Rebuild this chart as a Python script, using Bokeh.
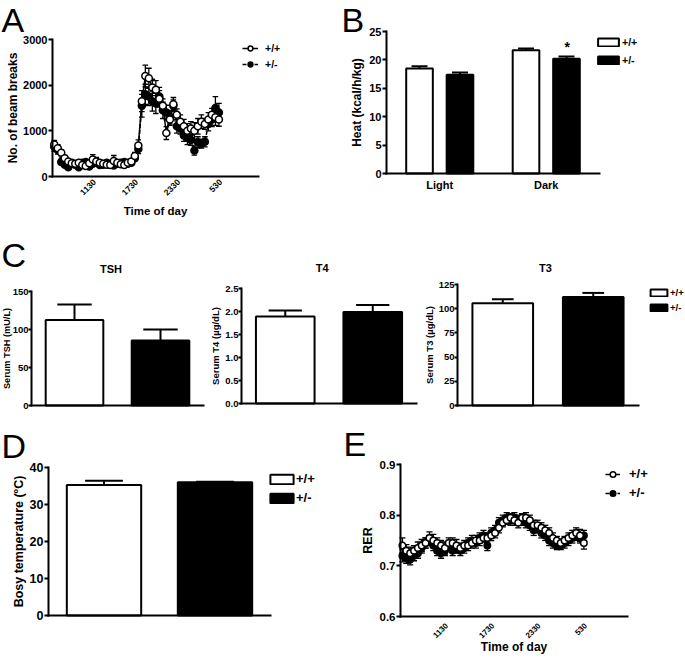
import math
from bokeh.plotting import figure
from bokeh.layouts import row, column
from bokeh.models import Legend, LegendItem, Label, FixedTicker, Range1d
from bokeh.embed import file_html
from bokeh.resources import INLINE

# ---------------- data ----------------
# time of day, hours after 05:30 (one sample every 30 min, first at 05:45)
hours = [0.25 + i * 0.5 for i in range(48)]
time_ticks = [6, 12, 18, 24]
time_tick_labels = ["1130", "1730", "2330", "530"]
genotypes = ["+/+", "+/-"]

beam_wt = [700, 620, 520, 400, 330, 290, 280, 300, 250, 230,
           290, 370, 330, 300, 280, 260, 250, 340, 300, 270,
           250, 300, 330, 450, 680, 1650, 2200, 2150, 1950, 1900,
           1700, 1550, 950, 1250, 1580, 1350, 1200, 1100, 1000, 1050,
           1000, 1100, 1200, 1150, 1250, 1350, 1300, 1250]
beam_wt_sem = [90, 80, 70, 60, 50, 50, 40, 50, 50, 40,
               60, 110, 90, 60, 50, 40, 50, 120, 60, 50,
               40, 50, 60, 80, 120, 230, 240, 220, 180, 200,
               180, 150, 140, 130, 150, 130, 150, 150, 160, 150,
               180, 170, 150, 120, 150, 140, 180, 150]
beam_het = [650, 580, 320, 260, 200, 300, 260, 200, 300, 320,
            220, 280, 300, 250, 260, 300, 260, 240, 280, 300,
            320, 280, 300, 400, 600, 1550, 1800, 1750, 1650, 1600,
            1750, 1450, 1400, 1300, 1550, 1100, 1050, 900, 850, 800,
            570, 750, 720, 760, 1150, 1250, 1500, 1400]
beam_het_sem = [100, 90, 60, 50, 40, 50, 40, 40, 60, 50,
                40, 40, 50, 40, 40, 50, 40, 40, 40, 50,
                50, 40, 50, 60, 100, 250, 220, 200, 220, 220,
                200, 180, 160, 150, 130, 150, 120, 130, 150, 120,
                100, 120, 100, 110, 150, 160, 250, 200]

heat_periods = ["Light", "Dark"]
heat_wt = [18.5, 21.7]
heat_wt_sem = [0.4, 0.3]
heat_het = [17.4, 20.2]
heat_het_sem = [0.4, 0.4]

tsh = [112.5, 85.5]
tsh_sem = [20.5, 14.5]
t4 = [1.89, 1.99]
t4_sem = [0.13, 0.15]
t3 = [105.6, 112.2]
t3_sem = [4.2, 4.1]
body_temp = [35.3, 36.0]
body_temp_sem = [1.1, 0.15]

rer_wt = [0.740, 0.730, 0.725, 0.730, 0.735, 0.740, 0.745, 0.755, 0.750, 0.745,
          0.740, 0.735, 0.745, 0.745, 0.740, 0.735, 0.740, 0.740, 0.745, 0.750,
          0.750, 0.755, 0.755, 0.760, 0.765, 0.775, 0.785, 0.790, 0.795, 0.790,
          0.785, 0.795, 0.795, 0.790, 0.780, 0.780, 0.775, 0.770, 0.765, 0.755,
          0.750, 0.745, 0.750, 0.755, 0.760, 0.765, 0.760, 0.745]
rer_wt_sem = [0.015, 0.012, 0.012, 0.010, 0.012, 0.012, 0.010, 0.012, 0.012, 0.010,
              0.010, 0.012, 0.010, 0.010, 0.012, 0.010, 0.010, 0.010, 0.010, 0.010,
              0.010, 0.008, 0.010, 0.010, 0.010, 0.010, 0.008, 0.008, 0.008, 0.010,
              0.010, 0.008, 0.010, 0.010, 0.010, 0.010, 0.010, 0.010, 0.010, 0.010,
              0.008, 0.008, 0.008, 0.010, 0.010, 0.010, 0.012, 0.012]
rer_het = [0.720, 0.715, 0.712, 0.720, 0.725, 0.735, 0.745, 0.750, 0.740, 0.730,
           0.725, 0.730, 0.740, 0.730, 0.735, 0.730, 0.735, 0.745, 0.750, 0.745,
           0.755, 0.760, 0.740, 0.765, 0.770, 0.785, 0.790, 0.795, 0.790, 0.795,
           0.790, 0.790, 0.785, 0.780, 0.770, 0.775, 0.765, 0.760, 0.750, 0.745,
           0.740, 0.740, 0.745, 0.750, 0.755, 0.760, 0.755, 0.760]
rer_het_sem = [0.012, 0.010, 0.010, 0.010, 0.010, 0.010, 0.010, 0.010, 0.010, 0.010,
               0.010, 0.010, 0.010, 0.010, 0.010, 0.010, 0.010, 0.010, 0.010, 0.010,
               0.010, 0.010, 0.010, 0.010, 0.010, 0.010, 0.010, 0.010, 0.010, 0.010,
               0.010, 0.010, 0.010, 0.010, 0.010, 0.010, 0.010, 0.010, 0.010, 0.010,
               0.008, 0.008, 0.010, 0.010, 0.010, 0.010, 0.010, 0.010]

# ---------------- helpers ----------------
K = 1.0          # reference pixels -> page pixels (Bokeh's page has no body margin)
FONT = "Liberation Sans"
LETTER_PX = 34


def s(v):
    return int(round(v * K))


def fs(px):
    return f"{px * K:.1f}px"


class Panel:
    """A figure whose frame fills its canvas; axes sit at fixed data locations."""

    def __init__(self, box, frame, xvals, yvals):
        self.box = box
        xl, yt, xr, yb = box
        fl, ft, fr, fb = frame

        def lin(px, p0, p1, v0, v1):
            return v0 + (px - p0) * (v1 - v0) / (p1 - p0)

        x_rng = Range1d(lin(s(xl) / K, fl, fr, *xvals), lin(s(xr) / K, fl, fr, *xvals))
        y_rng = Range1d(lin(s(yb) / K, fb, ft, *yvals), lin(s(yt) / K, fb, ft, *yvals))
        p = figure(width=s(xr) - s(xl), height=s(yb) - s(yt), x_range=x_rng, y_range=y_rng,
                   output_backend="svg", toolbar_location=None,
                   min_border=0, min_border_left=0, min_border_right=0,
                   min_border_top=0, min_border_bottom=0)
        p.title.visible = False
        p.outline_line_color = None
        p.xgrid.visible = False
        p.ygrid.visible = False
        p.xaxis.fixed_location = yvals[0]
        p.yaxis.fixed_location = xvals[0]
        p.xaxis.bounds = tuple(xvals)
        p.yaxis.bounds = tuple(yvals)
        self.p = p

    def screen(self, x, y):
        xl, yt, xr, yb = self.box
        return x * K - s(xl), s(yb) - y * K

    def style(self, tick_px, label_px, tick_out=4, lab_standoff=1, axlab_standoff=2):
        p = self.p
        for ax in p.axis:
            ax.axis_line_width = 2
            ax.axis_line_color = "black"
            ax.axis_line_cap = "square"
            ax.major_tick_line_width = 2
            ax.major_tick_line_color = "black"
            ax.major_tick_in = 0
            ax.major_tick_out = s(tick_out)
            ax.minor_tick_line_color = None
            ax.major_label_text_font = FONT
            ax.major_label_text_font_style = "bold"
            ax.major_label_text_font_size = fs(tick_px)
            ax.major_label_text_color = "black"
            ax.axis_label_text_font = FONT
            ax.axis_label_text_font_style = "bold"
            ax.axis_label_text_font_size = fs(label_px)
            ax.axis_label_text_color = "black"
            ax.major_label_standoff = lab_standoff
            ax.axis_label_standoff = axlab_standoff
        p.xaxis.major_tick_out = 0

    def text(self, txt, x, y, size, bold=True, align="center", baseline="middle"):
        sx, sy = self.screen(x, y)
        self.p.add_layout(Label(x=sx, y=sy, x_units="screen", y_units="screen", text=txt,
                                text_font=FONT, text_font_style="bold" if bold else "normal",
                                text_font_size=fs(size), text_align=align,
                                text_baseline=baseline, text_color="black"))

    def letter(self, ch, x, y_base):
        # the vertical middle of the text box sits ~0.35 em above the baseline
        self.text(ch, x, y_base - 0.35 * LETTER_PX, LETTER_PX, bold=False, align="left",
                  baseline="middle")

    def legend(self, items, glyph_left, bottom, glyph_w, glyph_h, label_h, spacing, standoff, font_px):
        sx, sy = self.screen(glyph_left, bottom)
        lg = Legend(items=items, location=(round(sx), round(sy)), orientation="vertical",
                    glyph_width=s(glyph_w), glyph_height=s(glyph_h),
                    label_height=s(label_h), spacing=s(spacing), label_standoff=s(standoff),
                    padding=0, margin=0, border_line_color=None, background_fill_alpha=0,
                    label_text_font=FONT, label_text_font_style="bold",
                    label_text_font_size=fs(font_px), label_text_color="black")
        self.p.add_layout(lg)


def time_series(p, vals, sems, fill, dash, cap, size):
    lo = [v - e for v, e in zip(vals, sems)]
    hi = [v + e for v, e in zip(vals, sems)]
    x0 = [h - cap for h in hours]
    x1 = [h + cap for h in hours]
    p.segment(hours, lo, hours, hi, line_color="black", line_width=1.3)
    p.segment(x0, hi, x1, hi, line_color="black", line_width=1.3)
    p.segment(x0, lo, x1, lo, line_color="black", line_width=1.3)
    ln = p.line(hours, vals, line_color="black", line_width=1.5, line_dash=dash)
    sc = p.scatter(hours, vals, size=size, marker="circle", fill_color=fill,
                   line_color="black", line_width=1.5)
    return [ln, sc]


def bars(p, centers, vals, sems, fill, width, cap):
    tops = [v + e for v, e in zip(vals, sems)]
    p.segment(centers, vals, centers, tops, line_color="black", line_width=2)
    p.segment([c - cap for c in centers], tops, [c + cap for c in centers], tops,
              line_color="black", line_width=2)
    r = p.vbar(x=centers, top=vals, bottom=0, width=width, fill_color=fill,
               line_color="black", line_width=2)
    return r


# ---------------- Panel A ----------------
A = Panel((0, 0, 340, 218), (52, 39, 258, 176), (0, 29.4), (0, 3000))
het_r = time_series(A.p, beam_het, beam_het_sem, "black", "4 2", 0.4, 7 * K)
wt_r = time_series(A.p, beam_wt, beam_wt_sem, "white", "solid", 0.4, 7 * K)
A.style(11, 12, axlab_standoff=0)
A.p.yaxis.ticker = FixedTicker(ticks=[0, 1000, 2000, 3000])
A.p.yaxis.axis_label = "No. of beam breaks"
A.p.xaxis.ticker = FixedTicker(ticks=time_ticks)
A.p.xaxis.major_label_overrides = {t: l for t, l in zip(time_ticks, time_tick_labels)}
A.p.xaxis.major_label_orientation = math.pi / 4
A.p.xaxis.major_label_text_font_size = fs(8.5)
A.p.xaxis.major_label_standoff = 4
A.p.xaxis.axis_label_standoff = 4
A.p.xaxis.axis_label = "Time of day"
A.p.xaxis.axis_label_text_font_size = fs(11.5)
A.legend([LegendItem(label=genotypes[0], renderers=wt_r),
          LegendItem(label=genotypes[1], renderers=het_r)],
         242, 70, 16, 12, 12, 4, 7, 10.5)
A.letter("A", 1, 31)

# ---------------- Panel B ----------------
B = Panel((340, 0, 685, 218), (386, 31, 599, 173), (0, 4), (0, 25))
group_centers = [2 * i + 1 for i in range(len(heat_periods))]
rb_wt = bars(B.p, [c - 0.38 for c in group_centers], heat_wt, heat_wt_sem, "white", 0.5, 0.15)
rb_het = bars(B.p, [c + 0.38 for c in group_centers], heat_het, heat_het_sem, "black", 0.5, 0.15)
B.style(11, 12)
B.p.yaxis.ticker = FixedTicker(ticks=[0, 5, 10, 15, 20, 25])
B.p.yaxis.axis_label = "Heat (kcal/h/kg)"
B.p.xaxis.ticker = FixedTicker(ticks=group_centers)
B.p.xaxis.major_label_overrides = {c: n for c, n in zip(group_centers, heat_periods)}
B.p.xaxis.major_label_standoff = s(5)
B.legend([LegendItem(label=genotypes[0], renderers=[rb_wt]),
          LegendItem(label=genotypes[1], renderers=[rb_het])],
         595.4, 66, 26, 10, 12, 6.3, 1, 10.5)
B.text("*", 566.7, 46, 14)
B.letter("B", 341, 31)

# ---------------- Panel C ----------------
bar_centers = [i + 0.5 for i in range(len(genotypes))]


def small_bar_panel(box, frame, yr, vals, sems, cap, yticks, ylabel, fmt=None, axlab_standoff=1):
    P = Panel(box, frame, (0, 2), yr)
    r1 = bars(P.p, [bar_centers[0]], [vals[0]], [sems[0]], "white", 0.67, cap)
    r2 = bars(P.p, [bar_centers[1]], [vals[1]], [sems[1]], "black", 0.67, cap)
    P.style(9.5, 9.5, tick_out=3, lab_standoff=0, axlab_standoff=axlab_standoff)
    P.p.yaxis.ticker = FixedTicker(ticks=yticks)
    if fmt:
        P.p.yaxis.major_label_overrides = {t: fmt.format(t) for t in yticks}
    P.p.yaxis.axis_label = ylabel
    P.p.xaxis.ticker = FixedTicker(ticks=[])
    return P, r1, r2


TSH, _, _ = small_bar_panel((0, 218, 205, 422), (31, 291, 203, 405), (0, 150), tsh, tsh_sem, 0.2,
                            [0, 50, 100, 150], "Serum TSH (mU/L)", axlab_standoff=-2)
TSH.p.yaxis.axis_label_text_font_size = fs(9.2)
TSH.text("TSH", 110.5, 268.5, 11)
TSH.letter("C", 1, 266)

T4, _, _ = small_bar_panel((205, 218, 421, 422), (241, 288, 416, 403), (0, 2.5), t4, t4_sem, 0.19,
                           [0, 0.5, 1.0, 1.5, 2.0, 2.5], "Serum T4 (\u00b5g/dL)", "{:.1f}")
T4.text("T4", 321.7, 267, 11)

T3, r3a, r3b = small_bar_panel((421, 218, 685, 422), (457, 284, 638, 405), (0, 125), t3, t3_sem, 0.12,
                               [0, 25, 50, 75, 100, 125], "Serum T3 (\u00b5g/dL)")
T3.text("T3", 545, 267, 11)
T3.legend([LegendItem(label=genotypes[0], renderers=[r3a]),
           LegendItem(label=genotypes[1], renderers=[r3b])],
          647.9, 312.8, 21.25, 8.75, 11, 3.6, 1, 9.5)

# ---------------- Panel D ----------------
D = Panel((0, 422, 340, 661), (48, 467, 270, 615), (0, 2), (0, 40))
rd1 = bars(D.p, [bar_centers[0]], [body_temp[0]], [body_temp_sem[0]], "white", 0.67, 0.17)
rd2 = bars(D.p, [bar_centers[1]], [body_temp[1]], [body_temp_sem[1]], "black", 0.67, 0.17)
D.style(12.5, 12.5, axlab_standoff=1)
D.p.yaxis.ticker = FixedTicker(ticks=[0, 10, 20, 30, 40])
D.p.yaxis.axis_label = "Bosy temperature (\u00baC)"
D.p.xaxis.ticker = FixedTicker(ticks=[])
D.legend([LegendItem(label=genotypes[0], renderers=[rd1]),
          LegendItem(label=genotypes[1], renderers=[rd2])],
         267.1, 504.5, 28.75, 12.5, 15, 4, 0.5, 13)
D.letter("D", 1, 457)

# ---------------- Panel E ----------------
E = Panel((340, 422, 685, 661), (400, 464, 627, 616), (0, 29.4), (0.6, 0.9))
he_r = time_series(E.p, rer_het, rer_het_sem, "black", "4 2", 0.4, 6.5 * K)
we_r = time_series(E.p, rer_wt, rer_wt_sem, "white", "solid", 0.4, 6.5 * K)
E.style(11.5, 12.5)
E.p.yaxis.ticker = FixedTicker(ticks=[0.6, 0.7, 0.8, 0.9])
E.p.yaxis.major_label_overrides = {t: f"{t:.1f}" for t in [0.6, 0.7, 0.8, 0.9]}
E.p.yaxis.axis_label = "RER"
E.p.xaxis.ticker = FixedTicker(ticks=time_ticks)
E.p.xaxis.major_label_overrides = {t: l for t, l in zip(time_ticks, time_tick_labels)}
E.p.xaxis.major_label_orientation = math.pi / 4
E.p.xaxis.major_label_text_font_size = fs(8)
E.p.xaxis.major_label_standoff = 8
E.p.xaxis.axis_label_standoff = -4
E.p.xaxis.axis_label = "Time of day"
E.p.xaxis.axis_label_text_font_size = fs(12)
E.legend([LegendItem(label=genotypes[0], renderers=we_r),
          LegendItem(label=genotypes[1], renderers=he_r)],
         605, 500.3, 15, 14, 14, 4.3, 9, 13)
E.letter("E", 343, 455)

layout = column(row(A.p, B.p), row(TSH.p, T4.p, T3.p), row(D.p, E.p))
open("out.html", "w").write(file_html(layout, INLINE))
